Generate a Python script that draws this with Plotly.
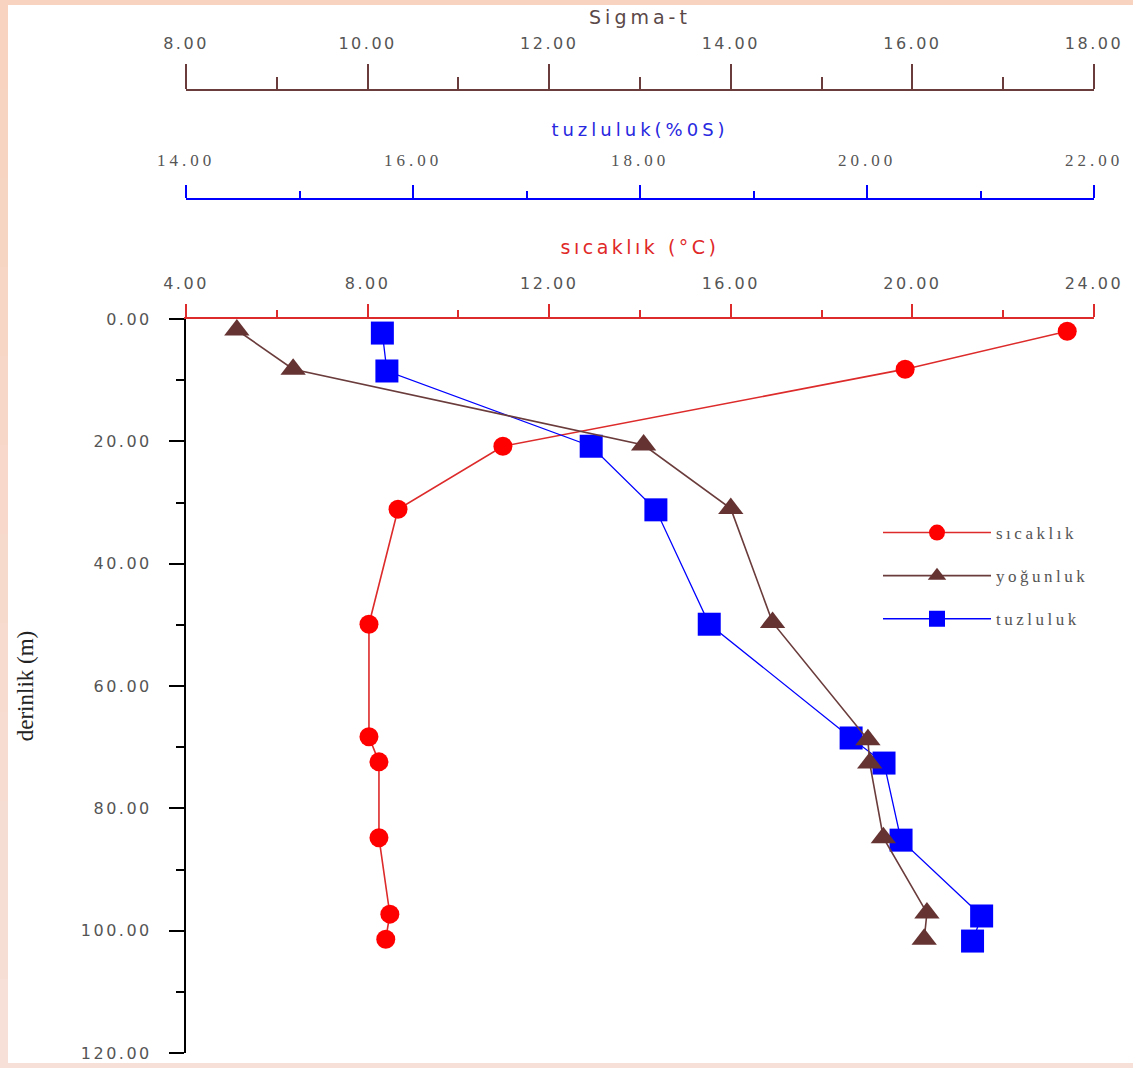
import plotly.graph_objects as go

# ---- data ----
depth_sicaklik = [2.0, 8.2, 20.8, 31.1, 49.9, 68.3, 72.4, 84.8, 97.3, 101.4]
sicaklik = [23.41, 19.84, 10.98, 8.67, 8.03, 8.03, 8.25, 8.25, 8.49, 8.40]

depth_yogunluk = [1.8, 8.2, 20.6, 31.0, 49.6, 68.8, 72.6, 84.8, 97.1, 101.4]
yogunluk = [8.56, 9.18, 13.04, 14.00, 14.46, 15.51, 15.53, 15.68, 16.16, 16.13]

depth_tuzluluk = [2.3, 8.5, 20.8, 31.2, 49.9, 68.5, 72.6, 85.2, 97.6, 101.7]
tuzluluk = [15.73, 15.77, 17.57, 18.14, 18.61, 19.86, 20.15, 20.30, 21.01, 20.93]

names = ["sıcaklık", "yoğunluk", "tuzluluk"]
x_titles = ["sıcaklık (°C)", "tuzluluk(%0S)", "Sigma-t"]
y_title = "derinlik (m)"

sicaklik_ticks = [4, 8, 12, 16, 20, 24]
tuzluluk_ticks = [14, 16, 18, 20, 22]
sigma_ticks = [8, 10, 12, 14, 16, 18]
depth_ticks = [0, 20, 40, 60, 80, 100, 120]

W, H = 1133, 1068
ML, MR, MT, MB = 186, 39, 20, 15
PH = H - MT - MB
PW = W - ML - MR


def py(p):  # pixel y -> paper y
    return (H - MB - p) / PH


def px(p):  # pixel x -> paper x
    return (p - ML) / PW


def spaced(text, ls):
    return f'<span style="letter-spacing:{ls}px">{text}</span>'


def tick_labels(vals, ls):
    return [spaced(f"{v:.2f}", ls) for v in vals]


RED = "#ff0000"
RED_LINE = "#dd2a2a"
BROWN = "#663333"
BROWN_LINE = "#6b3c3c"
BLUE = "#0000ff"
TICKGRAY = "#555555"

fig = go.Figure()
fig.add_trace(go.Scatter(
    x=sicaklik, y=depth_sicaklik, name=spaced(names[0], 3.5), xaxis="x", yaxis="y",
    mode="lines+markers", legendgroup="a",
    line=dict(color=RED_LINE, width=1.6),
    marker=dict(symbol="circle", size=19, color=RED, line=dict(width=0))))
fig.add_trace(go.Scatter(
    x=yogunluk, y=depth_yogunluk, name=spaced(names[1], 3.5), xaxis="x3", yaxis="y",
    mode="lines+markers", legendgroup="b",
    line=dict(color=BROWN_LINE, width=1.6),
    marker=dict(symbol="triangle-up", size=22, color=BROWN, line=dict(width=0))))
fig.add_trace(go.Scatter(
    x=tuzluluk, y=depth_tuzluluk, name=spaced(names[2], 3.5), xaxis="x2", yaxis="y",
    mode="lines+markers", legendgroup="c",
    line=dict(color=BLUE, width=1.3),
    marker=dict(symbol="square", size=23, color=BLUE, line=dict(width=0))))

tickfont = dict(family="DejaVu Sans", size=16, color=TICKGRAY)

fig.update_layout(
    width=W, height=H, autosize=False,
    margin=dict(l=ML, r=MR, t=MT, b=MB, autoexpand=False),
    paper_bgcolor="white", plot_bgcolor="rgba(0,0,0,0)",
    showlegend=True,
    legend=dict(x=px(878), y=py(515), xanchor="left", yanchor="top",
                bgcolor="rgba(0,0,0,0)", itemwidth=108, tracegroupgap=18,
                font=dict(family="Liberation Serif", size=17, color="#555555")),
    xaxis=dict(range=[4, 24], side="top", anchor="y", domain=[0, 1],
               automargin=False,
               tickmode="array", tickvals=sicaklik_ticks,
               ticktext=tick_labels(sicaklik_ticks, 2.5),
               showgrid=False, zeroline=False, showline=True,
               linecolor=RED_LINE, linewidth=2,
               ticks="outside", ticklen=13, tickwidth=2, tickcolor=RED_LINE,
               minor=dict(tickmode="linear", tick0=4, dtick=2, ticks="outside",
                          ticklen=7, tickwidth=2, tickcolor=RED_LINE, showgrid=False),
               tickfont=tickfont, ticklabelstandoff=9,
               title=dict(text=spaced(x_titles[0], 3.5), standoff=14,
                          font=dict(family="DejaVu Sans", size=19, color="#e02828"))),
    xaxis2=dict(range=[14, 22], side="top", anchor="free", overlaying="x",
                position=py(199), automargin=False,
                tickmode="array", tickvals=tuzluluk_ticks,
                ticktext=tick_labels(tuzluluk_ticks, 4),
                showgrid=False, zeroline=False, showline=True,
                linecolor=BLUE, linewidth=2,
                ticks="outside", ticklen=13, tickwidth=2, tickcolor=BLUE,
                minor=dict(tickmode="linear", tick0=14, dtick=1, ticks="outside",
                           ticklen=7, tickwidth=2, tickcolor=BLUE, showgrid=False),
                tickfont=dict(family="Liberation Serif", size=17, color=TICKGRAY),
                ticklabelstandoff=12,
                title=dict(text=spaced(x_titles[1], 4), standoff=9,
                           font=dict(family="DejaVu Sans", size=18, color="#2828e0"))),
    xaxis3=dict(range=[8, 18], side="top", anchor="free", overlaying="x",
                position=py(90), automargin=False,
                tickmode="array", tickvals=sigma_ticks,
                ticktext=tick_labels(sigma_ticks, 2.5),
                showgrid=False, zeroline=False, showline=True,
                linecolor=BROWN_LINE, linewidth=2,
                ticks="outside", ticklen=25, tickwidth=2, tickcolor=BROWN_LINE,
                minor=dict(tickmode="linear", tick0=8, dtick=1, ticks="outside",
                           ticklen=12, tickwidth=2, tickcolor=BROWN_LINE, showgrid=False),
                tickfont=tickfont, ticklabelstandoff=9,
                title=dict(text=spaced(x_titles[2], 4), standoff=3,
                           font=dict(family="DejaVu Sans", size=19, color="#5a4848"))),
    yaxis=dict(range=[120, 0], domain=[0, py(319)], anchor="x",
               automargin=False,
               tickmode="array", tickvals=depth_ticks,
               ticktext=tick_labels(depth_ticks, 2.5),
               showgrid=False, zeroline=False, showline=True,
               linecolor="black", linewidth=2,
               ticks="outside", ticklen=15, tickwidth=2, tickcolor="black",
               minor=dict(tickmode="linear", tick0=0, dtick=10, ticks="outside",
                          ticklen=8, tickwidth=2, tickcolor="black", showgrid=False),
               tickfont=tickfont, ticklabelstandoff=14,
               ticklabeloverflow="allow",
               title=dict(text=y_title, standoff=41,
                          font=dict(family="Liberation Serif", size=23, color="#222222"))),
)

# decorative frame strips (peach border of the original picture)
shapes = [
    dict(type="rect", xref="paper", yref="paper", layer="below",
         x0=px(0), x1=px(W), y0=py(0), y1=py(5), line=dict(width=0),
         fillcolor="#f8d3bf"),
    dict(type="rect", xref="paper", yref="paper", layer="below",
         x0=px(0), x1=px(W), y0=py(H - 5), y1=py(H), line=dict(width=0),
         fillcolor="#f6e0d8"),
]
n = 12
for i in range(n):
    t = i / (n - 1)
    r = int(0xf8 + (0xf6 - 0xf8) * t)
    g = int(0xd3 + (0xe0 - 0xd3) * t)
    b = int(0xbf + (0xd8 - 0xbf) * t)
    shapes.append(dict(type="rect", xref="paper", yref="paper", layer="below",
                       x0=px(0), x1=px(8),
                       y0=py(i * H / n), y1=py((i + 1) * H / n + 1),
                       line=dict(width=0), fillcolor=f"rgb({r},{g},{b})"))
fig.update_layout(shapes=shapes)

fig.write_html("out.html")
